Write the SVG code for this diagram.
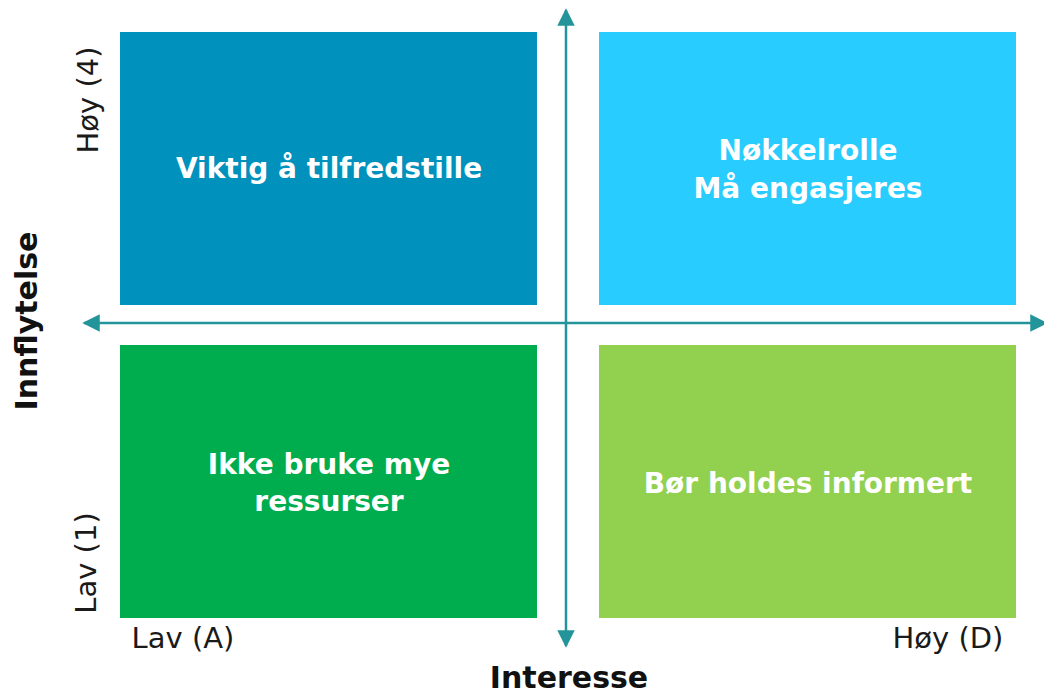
<svg xmlns="http://www.w3.org/2000/svg" width="1044" height="693" viewBox="0 0 1044 693">
<style>
.q{font-family:"DejaVu Sans",Verdana,sans-serif;font-weight:bold;font-size:28px;fill:#fff;text-anchor:middle}
.l{font-family:"DejaVu Sans",Verdana,sans-serif;font-size:29px;fill:#1a1a1a;text-anchor:middle}
.t{font-family:"DejaVu Sans",Verdana,sans-serif;font-weight:bold;font-size:30px;fill:#111;text-anchor:middle}
.ax{stroke:#23959a;stroke-width:2.5;fill:none}
</style>
<defs>
<marker id="ah" viewBox="0 0 10 10" refX="9" refY="5" markerWidth="7" markerHeight="7" markerUnits="strokeWidth" orient="auto-start-reverse">
<path d="M0,0 L10,5 L0,10 z" fill="#23959a"/>
</marker>
</defs>
<rect width="1044" height="693" fill="#fff"/>
<g id="q-tl"><rect x="120" y="32" width="417" height="273" fill="#0191bd"/><text class="q" x="329" y="178">Viktig å tilfredstille</text></g>
<g id="q-tr"><rect x="599" y="32" width="417" height="273" fill="#29ccfe"/><text class="q" x="808" y="160">Nøkkelrolle</text><text class="q" x="808" y="198">Må engasjeres</text></g>
<g id="q-bl"><rect x="120" y="345" width="417" height="273" fill="#00ad4e"/><text class="q" x="329" y="474">Ikke bruke mye</text><text class="q" x="329" y="511">ressurser</text></g>
<g id="q-br"><rect x="599" y="345" width="417" height="273" fill="#92d050"/><text class="q" x="808" y="493">Bør holdes informert</text></g>
<g id="axes">
<line class="ax" x1="566" y1="646" x2="566" y2="10" marker-start="url(#ah)" marker-end="url(#ah)"/>
<line class="ax" x1="84" y1="323" x2="1046" y2="323" marker-start="url(#ah)" marker-end="url(#ah)"/>
</g>
<g id="labels">
<text class="l" transform="translate(98,100) rotate(-90)">Høy (4)</text>
<text class="l" transform="translate(96,563) rotate(-90)">Lav (1)</text>
<text class="l" x="183" y="648">Lav (A)</text>
<text class="l" x="948" y="648">Høy (D)</text>
<text class="t" transform="translate(37,321) rotate(-90)">Innflytelse</text>
<text class="t" x="569" y="688">Interesse</text>
</g>
</svg>
